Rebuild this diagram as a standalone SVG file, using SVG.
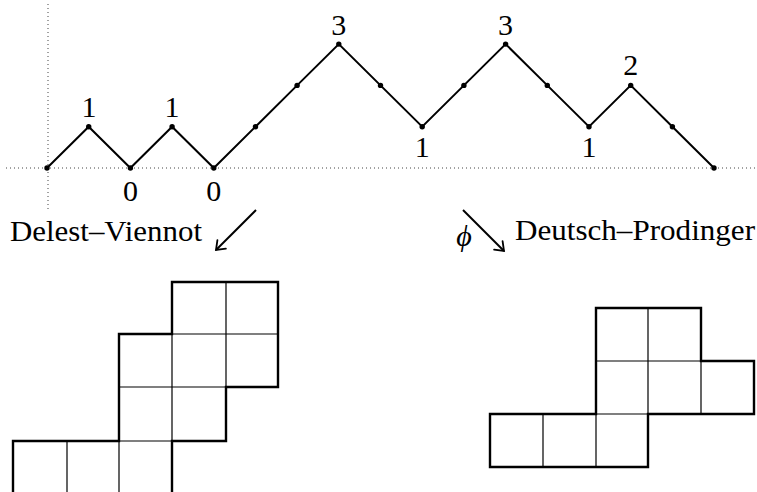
<svg xmlns="http://www.w3.org/2000/svg" width="757" height="492" viewBox="0 0 757 492">
<style>
.axis{stroke:#444;stroke-width:1;stroke-dasharray:1 3;fill:none}
.path{stroke:#000;stroke-width:2;fill:none;stroke-linejoin:miter}
.dot{fill:#000}
.lbl{font-family:'Liberation Serif','Times New Roman',serif;font-size:30px;fill:#000;text-anchor:middle}
.txt{font-family:'Liberation Serif','Times New Roman',serif;font-size:30px;fill:#000}
.arr{stroke:#000;stroke-width:2;fill:none}
.outline{stroke:#000;stroke-width:2.4;fill:none;stroke-linejoin:miter}
.inner{stroke:#000;stroke-width:1.2;fill:none}
</style>
<defs>
<marker id="ah" markerUnits="userSpaceOnUse" markerWidth="20" markerHeight="20" viewBox="-10 -10 20 20" refX="0" refY="0" orient="auto">
<path d="M-8,-6 Q-2,-1.5 0,0 Q-2,1.5 -8,6" stroke="#000" stroke-width="1.8" fill="none" stroke-linecap="round"/>
</marker>
</defs>
<g id="axes">
<line class="axis" x1="6" y1="168" x2="757" y2="168"/>
<line class="axis" x1="48" y1="4" x2="48" y2="212"/>
</g>
<g id="dyck-path">
<polyline class="path" points="47,168 88.7,126.7 130.4,168 172.1,126.7 213.8,168 255.5,126.7 297.1,85.4 338.8,44.1 380.5,85.4 422.2,126.7 463.9,85.4 505.6,44.1 547.3,85.4 589,126.7 630.7,85.4 672.4,126.7 714,168"/>
<g class="dot">
<circle cx="47" cy="168" r="2.7"/><circle cx="88.7" cy="126.7" r="2.7"/><circle cx="130.4" cy="168" r="2.7"/><circle cx="172.1" cy="126.7" r="2.7"/><circle cx="213.8" cy="168" r="2.7"/><circle cx="255.5" cy="126.7" r="2.7"/><circle cx="297.1" cy="85.4" r="2.7"/><circle cx="338.8" cy="44.1" r="2.7"/><circle cx="380.5" cy="85.4" r="2.7"/><circle cx="422.2" cy="126.7" r="2.7"/><circle cx="463.9" cy="85.4" r="2.7"/><circle cx="505.6" cy="44.1" r="2.7"/><circle cx="547.3" cy="85.4" r="2.7"/><circle cx="589" cy="126.7" r="2.7"/><circle cx="630.7" cy="85.4" r="2.7"/><circle cx="672.4" cy="126.7" r="2.7"/><circle cx="714" cy="168" r="2.7"/>
</g>
<text class="lbl" x="89" y="117">1</text>
<text class="lbl" x="172" y="117">1</text>
<text class="lbl" x="130.4" y="201">0</text>
<text class="lbl" x="213.8" y="201">0</text>
<text class="lbl" x="338.8" y="35">3</text>
<text class="lbl" x="505.6" y="35">3</text>
<text class="lbl" x="422.2" y="157">1</text>
<text class="lbl" x="589" y="157">1</text>
<text class="lbl" x="630.7" y="75">2</text>
</g>
<g id="connectors">
<line class="arr" x1="256" y1="210" x2="216" y2="250" marker-end="url(#ah)"/>
<line class="arr" x1="463" y1="210" x2="504" y2="251" marker-end="url(#ah)"/>
</g>
<g id="label-dv">
<text class="txt" x="10" y="241" textLength="192" lengthAdjust="spacingAndGlyphs">Delest–Viennot</text>
</g>
<g id="label-dp">
<text class="txt" x="464" y="246" text-anchor="middle" font-style="italic" font-size="32">ϕ</text>
<text class="txt" x="515" y="240" textLength="240" lengthAdjust="spacingAndGlyphs">Deutsch–Prodinger</text>
</g>
<g id="polyomino-left">
<path class="inner" d="M67,441V494M119,441V494M119,441H172M172,334V441M119,387H226M172,334H278M226,282V387"/>
<path class="outline" d="M13,494V441H119V334H172V282H278V387H226V441H172V494"/>
</g>
<g id="polyomino-right">
<path class="inner" d="M543,414V467M596,414V467M648,308V414M701,361V414M596,361H701M596,414H648"/>
<path class="outline" d="M490,414H596V308H701V361H754V414H648V467H490Z"/>
</g>
</svg>
